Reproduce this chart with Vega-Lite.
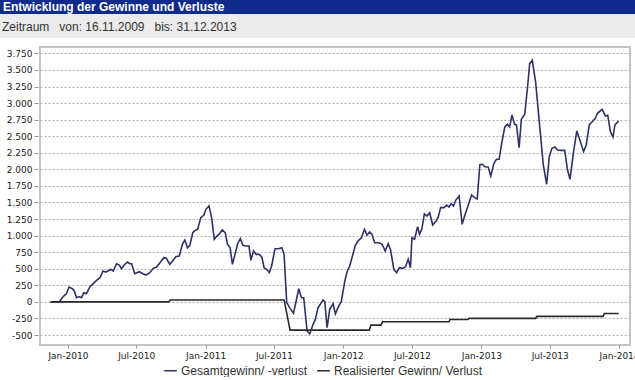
{
  "$schema": "https://vega.github.io/schema/vega-lite/v6.json",
  "background": "white",
  "padding": 0,
  "spacing": 8,
  "config": {
    "locale": {"number": {"decimal": ",", "thousands": ".", "grouping": [3], "currency": ["", " €"], "minus": "-"}},
    "font": "Liberation Sans"
  },
  "vconcat": [
    {
      "spacing": 0,
      "vconcat": [
        {
          "width": 635, "height": 14,
          "view": {"fill": "#102b8c", "stroke": null},
          "data": {"values": [{"t": "Entwicklung der Gewinne und Verluste"}]},
          "mark": {"type": "text", "align": "left", "baseline": "middle", "font": "Liberation Sans", "fontSize": 12, "fontWeight": "bold", "color": "white"},
          "encoding": {"text": {"field": "t"}, "x": {"value": 3}, "y": {"value": 7}}
        },
        {
          "width": 635, "height": 24,
          "view": {"fill": "#ebebeb", "stroke": null},
          "data": {"values": [{"t": "Zeitraum\u00a0\u00a0\u00a0von: 16.11.2009\u00a0\u00a0\u00a0bis: 31.12.2013"}]},
          "mark": {"type": "text", "align": "left", "baseline": "middle", "font": "Liberation Sans", "fontSize": 12, "color": "#333333"},
          "encoding": {"text": {"field": "t"}, "x": {"value": 2}, "y": {"value": 13}}
        }
      ]
    },
    {
      "spacing": 0,
      "data": {
        "format": {"parse": {"d": "date:'%Y-%m-%d'"}},
        "values": [
          {"d":"2009-11-16","v":0,"s":"Gesamtgewinn/ -verlust"},
          {"d":"2009-12-09","v":0,"s":"Gesamtgewinn/ -verlust"},
          {"d":"2009-12-19","v":78,"s":"Gesamtgewinn/ -verlust"},
          {"d":"2009-12-28","v":124,"s":"Gesamtgewinn/ -verlust"},
          {"d":"2010-01-04","v":225,"s":"Gesamtgewinn/ -verlust"},
          {"d":"2010-01-13","v":200,"s":"Gesamtgewinn/ -verlust"},
          {"d":"2010-01-18","v":165,"s":"Gesamtgewinn/ -verlust"},
          {"d":"2010-01-24","v":64,"s":"Gesamtgewinn/ -verlust"},
          {"d":"2010-01-31","v":80,"s":"Gesamtgewinn/ -verlust"},
          {"d":"2010-02-06","v":64,"s":"Gesamtgewinn/ -verlust"},
          {"d":"2010-02-12","v":139,"s":"Gesamtgewinn/ -verlust"},
          {"d":"2010-02-19","v":124,"s":"Gesamtgewinn/ -verlust"},
          {"d":"2010-02-28","v":225,"s":"Gesamtgewinn/ -verlust"},
          {"d":"2010-03-09","v":275,"s":"Gesamtgewinn/ -verlust"},
          {"d":"2010-03-18","v":326,"s":"Gesamtgewinn/ -verlust"},
          {"d":"2010-03-27","v":365,"s":"Gesamtgewinn/ -verlust"},
          {"d":"2010-04-04","v":466,"s":"Gesamtgewinn/ -verlust"},
          {"d":"2010-04-11","v":451,"s":"Gesamtgewinn/ -verlust"},
          {"d":"2010-04-17","v":466,"s":"Gesamtgewinn/ -verlust"},
          {"d":"2010-04-25","v":492,"s":"Gesamtgewinn/ -verlust"},
          {"d":"2010-05-01","v":466,"s":"Gesamtgewinn/ -verlust"},
          {"d":"2010-05-10","v":576,"s":"Gesamtgewinn/ -verlust"},
          {"d":"2010-05-17","v":557,"s":"Gesamtgewinn/ -verlust"},
          {"d":"2010-05-23","v":501,"s":"Gesamtgewinn/ -verlust"},
          {"d":"2010-06-01","v":567,"s":"Gesamtgewinn/ -verlust"},
          {"d":"2010-06-08","v":602,"s":"Gesamtgewinn/ -verlust"},
          {"d":"2010-06-14","v":576,"s":"Gesamtgewinn/ -verlust"},
          {"d":"2010-06-19","v":576,"s":"Gesamtgewinn/ -verlust"},
          {"d":"2010-06-27","v":426,"s":"Gesamtgewinn/ -verlust"},
          {"d":"2010-07-09","v":456,"s":"Gesamtgewinn/ -verlust"},
          {"d":"2010-07-19","v":426,"s":"Gesamtgewinn/ -verlust"},
          {"d":"2010-07-27","v":406,"s":"Gesamtgewinn/ -verlust"},
          {"d":"2010-08-06","v":441,"s":"Gesamtgewinn/ -verlust"},
          {"d":"2010-08-15","v":507,"s":"Gesamtgewinn/ -verlust"},
          {"d":"2010-08-24","v":527,"s":"Gesamtgewinn/ -verlust"},
          {"d":"2010-09-02","v":592,"s":"Gesamtgewinn/ -verlust"},
          {"d":"2010-09-12","v":667,"s":"Gesamtgewinn/ -verlust"},
          {"d":"2010-09-19","v":658,"s":"Gesamtgewinn/ -verlust"},
          {"d":"2010-09-28","v":567,"s":"Gesamtgewinn/ -verlust"},
          {"d":"2010-10-07","v":628,"s":"Gesamtgewinn/ -verlust"},
          {"d":"2010-10-14","v":682,"s":"Gesamtgewinn/ -verlust"},
          {"d":"2010-10-23","v":692,"s":"Gesamtgewinn/ -verlust"},
          {"d":"2010-11-01","v":878,"s":"Gesamtgewinn/ -verlust"},
          {"d":"2010-11-07","v":934,"s":"Gesamtgewinn/ -verlust"},
          {"d":"2010-11-14","v":818,"s":"Gesamtgewinn/ -verlust"},
          {"d":"2010-11-20","v":850,"s":"Gesamtgewinn/ -verlust"},
          {"d":"2010-11-28","v":1044,"s":"Gesamtgewinn/ -verlust"},
          {"d":"2010-12-04","v":1080,"s":"Gesamtgewinn/ -verlust"},
          {"d":"2010-12-11","v":1095,"s":"Gesamtgewinn/ -verlust"},
          {"d":"2010-12-19","v":1271,"s":"Gesamtgewinn/ -verlust"},
          {"d":"2010-12-27","v":1307,"s":"Gesamtgewinn/ -verlust"},
          {"d":"2011-01-02","v":1397,"s":"Gesamtgewinn/ -verlust"},
          {"d":"2011-01-10","v":1447,"s":"Gesamtgewinn/ -verlust"},
          {"d":"2011-01-17","v":1271,"s":"Gesamtgewinn/ -verlust"},
          {"d":"2011-01-24","v":945,"s":"Gesamtgewinn/ -verlust"},
          {"d":"2011-01-31","v":994,"s":"Gesamtgewinn/ -verlust"},
          {"d":"2011-02-07","v":1029,"s":"Gesamtgewinn/ -verlust"},
          {"d":"2011-02-14","v":1085,"s":"Gesamtgewinn/ -verlust"},
          {"d":"2011-02-22","v":1044,"s":"Gesamtgewinn/ -verlust"},
          {"d":"2011-02-28","v":869,"s":"Gesamtgewinn/ -verlust"},
          {"d":"2011-03-07","v":818,"s":"Gesamtgewinn/ -verlust"},
          {"d":"2011-03-13","v":567,"s":"Gesamtgewinn/ -verlust"},
          {"d":"2011-03-20","v":718,"s":"Gesamtgewinn/ -verlust"},
          {"d":"2011-03-27","v":878,"s":"Gesamtgewinn/ -verlust"},
          {"d":"2011-04-03","v":954,"s":"Gesamtgewinn/ -verlust"},
          {"d":"2011-04-10","v":854,"s":"Gesamtgewinn/ -verlust"},
          {"d":"2011-04-17","v":843,"s":"Gesamtgewinn/ -verlust"},
          {"d":"2011-04-26","v":843,"s":"Gesamtgewinn/ -verlust"},
          {"d":"2011-05-01","v":628,"s":"Gesamtgewinn/ -verlust"},
          {"d":"2011-05-08","v":768,"s":"Gesamtgewinn/ -verlust"},
          {"d":"2011-05-15","v":718,"s":"Gesamtgewinn/ -verlust"},
          {"d":"2011-05-23","v":718,"s":"Gesamtgewinn/ -verlust"},
          {"d":"2011-05-30","v":678,"s":"Gesamtgewinn/ -verlust"},
          {"d":"2011-06-05","v":516,"s":"Gesamtgewinn/ -verlust"},
          {"d":"2011-06-12","v":492,"s":"Gesamtgewinn/ -verlust"},
          {"d":"2011-06-19","v":441,"s":"Gesamtgewinn/ -verlust"},
          {"d":"2011-06-25","v":542,"s":"Gesamtgewinn/ -verlust"},
          {"d":"2011-07-04","v":803,"s":"Gesamtgewinn/ -verlust"},
          {"d":"2011-07-13","v":803,"s":"Gesamtgewinn/ -verlust"},
          {"d":"2011-07-22","v":818,"s":"Gesamtgewinn/ -verlust"},
          {"d":"2011-07-28","v":718,"s":"Gesamtgewinn/ -verlust"},
          {"d":"2011-08-04","v":-10,"s":"Gesamtgewinn/ -verlust"},
          {"d":"2011-08-13","v":-97,"s":"Gesamtgewinn/ -verlust"},
          {"d":"2011-08-22","v":-172,"s":"Gesamtgewinn/ -verlust"},
          {"d":"2011-08-29","v":14,"s":"Gesamtgewinn/ -verlust"},
          {"d":"2011-09-05","v":199,"s":"Gesamtgewinn/ -verlust"},
          {"d":"2011-09-12","v":64,"s":"Gesamtgewinn/ -verlust"},
          {"d":"2011-09-18","v":64,"s":"Gesamtgewinn/ -verlust"},
          {"d":"2011-09-27","v":-439,"s":"Gesamtgewinn/ -verlust"},
          {"d":"2011-10-04","v":-480,"s":"Gesamtgewinn/ -verlust"},
          {"d":"2011-10-13","v":-338,"s":"Gesamtgewinn/ -verlust"},
          {"d":"2011-10-19","v":-263,"s":"Gesamtgewinn/ -verlust"},
          {"d":"2011-10-26","v":-87,"s":"Gesamtgewinn/ -verlust"},
          {"d":"2011-11-01","v":-36,"s":"Gesamtgewinn/ -verlust"},
          {"d":"2011-11-08","v":29,"s":"Gesamtgewinn/ -verlust"},
          {"d":"2011-11-13","v":3,"s":"Gesamtgewinn/ -verlust"},
          {"d":"2011-11-19","v":-389,"s":"Gesamtgewinn/ -verlust"},
          {"d":"2011-11-26","v":-112,"s":"Gesamtgewinn/ -verlust"},
          {"d":"2011-12-05","v":-27,"s":"Gesamtgewinn/ -verlust"},
          {"d":"2011-12-11","v":-180,"s":"Gesamtgewinn/ -verlust"},
          {"d":"2011-12-18","v":-87,"s":"Gesamtgewinn/ -verlust"},
          {"d":"2011-12-27","v":14,"s":"Gesamtgewinn/ -verlust"},
          {"d":"2012-01-05","v":315,"s":"Gesamtgewinn/ -verlust"},
          {"d":"2012-01-11","v":456,"s":"Gesamtgewinn/ -verlust"},
          {"d":"2012-01-18","v":542,"s":"Gesamtgewinn/ -verlust"},
          {"d":"2012-01-26","v":708,"s":"Gesamtgewinn/ -verlust"},
          {"d":"2012-02-02","v":854,"s":"Gesamtgewinn/ -verlust"},
          {"d":"2012-02-09","v":919,"s":"Gesamtgewinn/ -verlust"},
          {"d":"2012-02-18","v":969,"s":"Gesamtgewinn/ -verlust"},
          {"d":"2012-02-26","v":1095,"s":"Gesamtgewinn/ -verlust"},
          {"d":"2012-03-04","v":1005,"s":"Gesamtgewinn/ -verlust"},
          {"d":"2012-03-11","v":1055,"s":"Gesamtgewinn/ -verlust"},
          {"d":"2012-03-17","v":1020,"s":"Gesamtgewinn/ -verlust"},
          {"d":"2012-03-24","v":893,"s":"Gesamtgewinn/ -verlust"},
          {"d":"2012-04-04","v":893,"s":"Gesamtgewinn/ -verlust"},
          {"d":"2012-04-13","v":869,"s":"Gesamtgewinn/ -verlust"},
          {"d":"2012-04-21","v":768,"s":"Gesamtgewinn/ -verlust"},
          {"d":"2012-04-29","v":878,"s":"Gesamtgewinn/ -verlust"},
          {"d":"2012-05-05","v":793,"s":"Gesamtgewinn/ -verlust"},
          {"d":"2012-05-14","v":492,"s":"Gesamtgewinn/ -verlust"},
          {"d":"2012-05-21","v":441,"s":"Gesamtgewinn/ -verlust"},
          {"d":"2012-05-29","v":516,"s":"Gesamtgewinn/ -verlust"},
          {"d":"2012-06-07","v":507,"s":"Gesamtgewinn/ -verlust"},
          {"d":"2012-06-14","v":531,"s":"Gesamtgewinn/ -verlust"},
          {"d":"2012-06-21","v":643,"s":"Gesamtgewinn/ -verlust"},
          {"d":"2012-06-27","v":516,"s":"Gesamtgewinn/ -verlust"},
          {"d":"2012-07-01","v":969,"s":"Gesamtgewinn/ -verlust"},
          {"d":"2012-07-08","v":945,"s":"Gesamtgewinn/ -verlust"},
          {"d":"2012-07-16","v":1135,"s":"Gesamtgewinn/ -verlust"},
          {"d":"2012-07-21","v":1020,"s":"Gesamtgewinn/ -verlust"},
          {"d":"2012-07-27","v":1095,"s":"Gesamtgewinn/ -verlust"},
          {"d":"2012-08-03","v":1331,"s":"Gesamtgewinn/ -verlust"},
          {"d":"2012-08-10","v":1296,"s":"Gesamtgewinn/ -verlust"},
          {"d":"2012-08-17","v":1346,"s":"Gesamtgewinn/ -verlust"},
          {"d":"2012-08-25","v":1160,"s":"Gesamtgewinn/ -verlust"},
          {"d":"2012-09-03","v":1221,"s":"Gesamtgewinn/ -verlust"},
          {"d":"2012-09-09","v":1286,"s":"Gesamtgewinn/ -verlust"},
          {"d":"2012-09-15","v":1422,"s":"Gesamtgewinn/ -verlust"},
          {"d":"2012-09-24","v":1422,"s":"Gesamtgewinn/ -verlust"},
          {"d":"2012-10-01","v":1462,"s":"Gesamtgewinn/ -verlust"},
          {"d":"2012-10-07","v":1432,"s":"Gesamtgewinn/ -verlust"},
          {"d":"2012-10-13","v":1482,"s":"Gesamtgewinn/ -verlust"},
          {"d":"2012-10-19","v":1447,"s":"Gesamtgewinn/ -verlust"},
          {"d":"2012-10-25","v":1533,"s":"Gesamtgewinn/ -verlust"},
          {"d":"2012-11-03","v":1598,"s":"Gesamtgewinn/ -verlust"},
          {"d":"2012-11-11","v":1171,"s":"Gesamtgewinn/ -verlust"},
          {"d":"2012-11-19","v":1322,"s":"Gesamtgewinn/ -verlust"},
          {"d":"2012-11-28","v":1473,"s":"Gesamtgewinn/ -verlust"},
          {"d":"2012-12-06","v":1613,"s":"Gesamtgewinn/ -verlust"},
          {"d":"2012-12-14","v":1573,"s":"Gesamtgewinn/ -verlust"},
          {"d":"2012-12-21","v":1553,"s":"Gesamtgewinn/ -verlust"},
          {"d":"2012-12-28","v":2071,"s":"Gesamtgewinn/ -verlust"},
          {"d":"2013-01-04","v":2076,"s":"Gesamtgewinn/ -verlust"},
          {"d":"2013-01-10","v":2040,"s":"Gesamtgewinn/ -verlust"},
          {"d":"2013-01-19","v":2035,"s":"Gesamtgewinn/ -verlust"},
          {"d":"2013-01-26","v":1900,"s":"Gesamtgewinn/ -verlust"},
          {"d":"2013-02-03","v":2086,"s":"Gesamtgewinn/ -verlust"},
          {"d":"2013-02-10","v":2152,"s":"Gesamtgewinn/ -verlust"},
          {"d":"2013-02-17","v":2152,"s":"Gesamtgewinn/ -verlust"},
          {"d":"2013-02-25","v":2428,"s":"Gesamtgewinn/ -verlust"},
          {"d":"2013-03-04","v":2639,"s":"Gesamtgewinn/ -verlust"},
          {"d":"2013-03-11","v":2680,"s":"Gesamtgewinn/ -verlust"},
          {"d":"2013-03-17","v":2639,"s":"Gesamtgewinn/ -verlust"},
          {"d":"2013-03-23","v":2820,"s":"Gesamtgewinn/ -verlust"},
          {"d":"2013-03-30","v":2680,"s":"Gesamtgewinn/ -verlust"},
          {"d":"2013-04-04","v":2670,"s":"Gesamtgewinn/ -verlust"},
          {"d":"2013-04-11","v":2327,"s":"Gesamtgewinn/ -verlust"},
          {"d":"2013-04-17","v":2755,"s":"Gesamtgewinn/ -verlust"},
          {"d":"2013-04-26","v":2831,"s":"Gesamtgewinn/ -verlust"},
          {"d":"2013-05-05","v":3333,"s":"Gesamtgewinn/ -verlust"},
          {"d":"2013-05-09","v":3595,"s":"Gesamtgewinn/ -verlust"},
          {"d":"2013-05-16","v":3646,"s":"Gesamtgewinn/ -verlust"},
          {"d":"2013-05-25","v":3308,"s":"Gesamtgewinn/ -verlust"},
          {"d":"2013-06-05","v":2629,"s":"Gesamtgewinn/ -verlust"},
          {"d":"2013-06-14","v":2076,"s":"Gesamtgewinn/ -verlust"},
          {"d":"2013-06-23","v":1775,"s":"Gesamtgewinn/ -verlust"},
          {"d":"2013-06-30","v":2187,"s":"Gesamtgewinn/ -verlust"},
          {"d":"2013-07-07","v":2318,"s":"Gesamtgewinn/ -verlust"},
          {"d":"2013-07-15","v":2338,"s":"Gesamtgewinn/ -verlust"},
          {"d":"2013-07-22","v":2292,"s":"Gesamtgewinn/ -verlust"},
          {"d":"2013-07-31","v":2287,"s":"Gesamtgewinn/ -verlust"},
          {"d":"2013-08-10","v":2287,"s":"Gesamtgewinn/ -verlust"},
          {"d":"2013-08-17","v":2001,"s":"Gesamtgewinn/ -verlust"},
          {"d":"2013-08-24","v":1850,"s":"Gesamtgewinn/ -verlust"},
          {"d":"2013-09-02","v":2252,"s":"Gesamtgewinn/ -verlust"},
          {"d":"2013-09-11","v":2579,"s":"Gesamtgewinn/ -verlust"},
          {"d":"2013-09-20","v":2428,"s":"Gesamtgewinn/ -verlust"},
          {"d":"2013-09-29","v":2267,"s":"Gesamtgewinn/ -verlust"},
          {"d":"2013-10-06","v":2368,"s":"Gesamtgewinn/ -verlust"},
          {"d":"2013-10-14","v":2670,"s":"Gesamtgewinn/ -verlust"},
          {"d":"2013-10-21","v":2715,"s":"Gesamtgewinn/ -verlust"},
          {"d":"2013-10-30","v":2771,"s":"Gesamtgewinn/ -verlust"},
          {"d":"2013-11-05","v":2846,"s":"Gesamtgewinn/ -verlust"},
          {"d":"2013-11-17","v":2906,"s":"Gesamtgewinn/ -verlust"},
          {"d":"2013-11-26","v":2805,"s":"Gesamtgewinn/ -verlust"},
          {"d":"2013-12-02","v":2815,"s":"Gesamtgewinn/ -verlust"},
          {"d":"2013-12-09","v":2568,"s":"Gesamtgewinn/ -verlust"},
          {"d":"2013-12-16","v":2488,"s":"Gesamtgewinn/ -verlust"},
          {"d":"2013-12-21","v":2670,"s":"Gesamtgewinn/ -verlust"},
          {"d":"2013-12-31","v":2730,"s":"Gesamtgewinn/ -verlust"},
          {"d":"2009-11-16","v":0,"s":"Realisierter Gewinn/ Verlust"},
          {"d":"2010-09-25","v":0,"s":"Realisierter Gewinn/ Verlust"},
          {"d":"2010-09-29","v":30,"s":"Realisierter Gewinn/ Verlust"},
          {"d":"2011-07-28","v":30,"s":"Realisierter Gewinn/ Verlust"},
          {"d":"2011-08-13","v":-425,"s":"Realisierter Gewinn/ Verlust"},
          {"d":"2012-03-10","v":-425,"s":"Realisierter Gewinn/ Verlust"},
          {"d":"2012-03-14","v":-350,"s":"Realisierter Gewinn/ Verlust"},
          {"d":"2012-04-10","v":-350,"s":"Realisierter Gewinn/ Verlust"},
          {"d":"2012-04-14","v":-300,"s":"Realisierter Gewinn/ Verlust"},
          {"d":"2012-10-07","v":-300,"s":"Realisierter Gewinn/ Verlust"},
          {"d":"2012-10-10","v":-265,"s":"Realisierter Gewinn/ Verlust"},
          {"d":"2012-11-26","v":-265,"s":"Realisierter Gewinn/ Verlust"},
          {"d":"2012-11-29","v":-248,"s":"Realisierter Gewinn/ Verlust"},
          {"d":"2013-05-25","v":-248,"s":"Realisierter Gewinn/ Verlust"},
          {"d":"2013-05-28","v":-218,"s":"Realisierter Gewinn/ Verlust"},
          {"d":"2013-11-20","v":-218,"s":"Realisierter Gewinn/ Verlust"},
          {"d":"2013-11-23","v":-175,"s":"Realisierter Gewinn/ Verlust"},
          {"d":"2013-12-31","v":-175,"s":"Realisierter Gewinn/ Verlust"}
        ]
      },
      "hconcat": [
        {
          "width": 38, "height": 298,
          "view": {"stroke": null},
          "mark": {"type": "point", "opacity": 0, "size": 0},
          "encoding": {
            "y": {
              "field": "v", "type": "quantitative",
              "scale": {"domain": [-650, 3846], "nice": false, "zero": false},
              "axis": {"title": null, "orient": "left", "offset": -38, "values": [-500, -250, 0, 250, 500, 750, 1000, 1250, 1500, 1750, 2000, 2250, 2500, 2750, 3000, 3250, 3500, 3750], "format": ",d", "grid": false, "domain": false, "ticks": true, "tickSize": 4, "tickColor": "#999999", "labelFont": "DejaVu Sans", "labelFontSize": 9, "labelColor": "#222222", "labelPadding": 2, "minExtent": 0, "maxExtent": 0}
            }
          }
        },
        {
          "width": 590, "height": 298,
          "view": {"stroke": "#c4c4c4", "strokeWidth": 2, "fill": "white"},
          "mark": {"type": "line", "strokeWidth": 1.6},
          "encoding": {
            "x": {
              "field": "d", "type": "temporal",
              "scale": {"domain": [{"year": 2009, "month": 10, "date": 19}, {"year": 2014, "month": 1, "date": 30}], "nice": false},
              "axis": {"title": null, "format": "%b-%Y", "tickCount": {"interval": "month", "step": 6}, "grid": false, "domain": false, "ticks": true, "tickSize": 3, "tickColor": "#999999", "labelFont": "DejaVu Sans", "labelFontSize": 9, "labelColor": "#222222", "labelPadding": 3, "labelFlush": false}
            },
            "y": {
              "field": "v", "type": "quantitative",
              "scale": {"domain": [-650, 3846], "nice": false, "zero": false},
              "axis": {"title": null, "values": [-500, -250, 0, 250, 500, 750, 1000, 1250, 1500, 1750, 2000, 2250, 2500, 2750, 3000, 3250, 3500, 3750], "grid": true, "gridDash": [2, 2], "gridColor": "#aaaaaa", "gridWidth": 1, "domain": false, "ticks": false, "labels": false, "minExtent": 0, "maxExtent": 0}
            },
            "color": {
              "field": "s", "type": "nominal",
              "scale": {"domain": ["Gesamtgewinn/ -verlust", "Realisierter Gewinn/ Verlust"], "range": ["#2e3264", "#2a2a2a"]},
              "legend": {"title": null, "orient": "none", "legendX": 163, "legendY": 363, "direction": "horizontal", "symbolType": "stroke", "symbolSize": 160, "symbolStrokeWidth": 1.5, "labelFont": "Liberation Sans", "labelFontSize": 12, "labelColor": "#333333", "labelOffset": 3, "columnPadding": 6}
            }
          }
        }
      ]
    }
  ]
}
